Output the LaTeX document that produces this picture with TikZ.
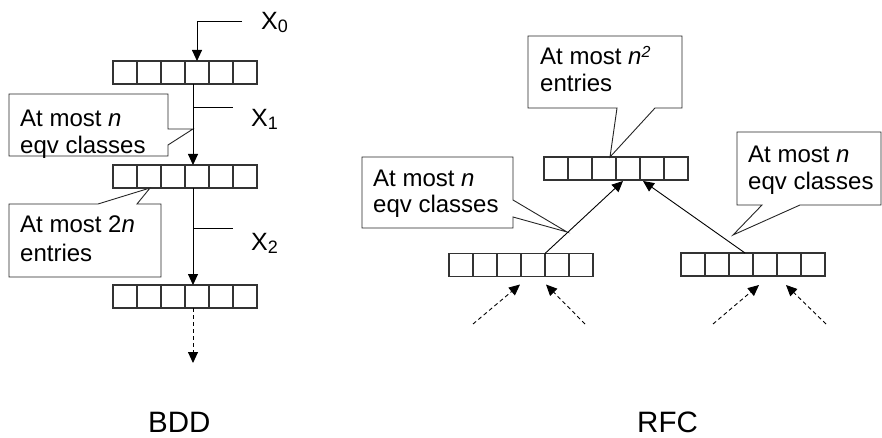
\documentclass[tikz,border=0pt]{standalone}
\usepackage{fontspec}
\setmainfont{Liberation Sans}
\usetikzlibrary{arrows.meta,calc}
\begin{document}
\begin{tikzpicture}[x=1pt,y=-1pt,
  arraybox/.style={draw=black!80,line width=1.2pt,minimum width=144pt,minimum height=23pt,inner sep=0pt,outer sep=0pt},
  cellline/.style={draw=black!80,line width=1.2pt},
  conn/.style={draw=black,line width=0.9pt},
  tip/.style={conn,-{Triangle[width=10pt,length=11pt]}},
  dtip/.style={tip,dash pattern=on 4pt off 3pt},
  callout/.style={draw=black!85,line width=0.9pt,fill=white,line join=miter},
  lab/.style={anchor=base west,inner sep=0pt,font=\fontsize{24}{24}\selectfont},
  xlab/.style={anchor=base west,inner sep=0pt,font=\fontsize{25}{25}\selectfont},
  title/.style={anchor=base west,inner sep=0pt,font=\fontsize{29.5}{29.5}\selectfont}
]
\useasboundingbox (0,0) rectangle (882,438);

% arrays
\node[arraybox] (b1) at (185,72.5) {};
\node[arraybox] (b2) at (185,176.5) {};
\node[arraybox] (b3) at (185,296.5) {};
\node[arraybox] (t) at (616,168.5) {};
\node[arraybox] (l) at (521,265) {};
\node[arraybox] (r) at (753,264.5) {};
\foreach \a in {b1,b2,b3,t,l,r}{
  \foreach \k in {1,...,5}{
    \draw[cellline] ($(\a.north west)!\k/6!(\a.north east)$) -- ($(\a.south west)!\k/6!(\a.south east)$);
  }
}

% callouts
\draw[callout] (9,94) -- (168,94) -- (168,129) -- (193,129) -- (168,145) -- (168,156) -- (9,156) -- cycle;
\node[lab] (c1a) at (20,127) {At most \textit{n}};
\node[lab] (c1b) at (20,154) {eqv classes};

\draw[callout] (9,204) -- (98,204) -- (150,188) -- (137,204) -- (161,204) -- (161,277) -- (9,277) -- cycle;
\node[lab] (c2a) at (20,233) {At most 2\textit{n}};
\node[lab] (c2b) at (20,261) {entries};

\draw[callout] (528,36) -- (682,36) -- (682,108) -- (655,108) -- (610,157) -- (617,108) -- (528,108) -- cycle;
\node[lab] (c3a) at (540,65) {At most \textit{n}\raisebox{7pt}{\fontsize{16}{16}\selectfont\itshape 2}};
\node[lab] (c3b) at (540,92) {entries};

\draw[callout] (362,157) -- (513,157) -- (513,200) -- (567,232) -- (513,217) -- (513,228) -- (362,228) -- cycle;
\node[lab] (c4a) at (373,187) {At most \textit{n}};
\node[lab] (c4b) at (373,213) {eqv classes};

\draw[callout] (737,132) -- (881,132) -- (881,205) -- (800,205) -- (733,235) -- (762,205) -- (737,205) -- cycle;
\node[lab] (c5a) at (748,163) {At most \textit{n}};
\node[lab] (c5b) at (748,190) {eqv classes};

% BDD connectors
\coordinate (x0s) at (242,21);
\coordinate (bx) at ($(b1.south)+(8,0)$);
\draw[tip] (x0s) -| ($(b1.north)+(12,0)$);
\draw[tip] ($(b1.south)+(8,0)$) -- ($(b2.north)+(8,0)$);
\draw[tip] ($(b2.south)+(8,0)$) -- ($(b3.north)+(8,0)$);
\coordinate (bend) at (193,363);
\draw[dtip] ($(b3.south)+(8,0)$) -- (bend);
\coordinate (x1e) at (233,107);
\coordinate (x2e) at (233,228);
\draw[conn] (bx |- x1e) -- (x1e);
\draw[conn] (bx |- x2e) -- (x2e);
\node[xlab] (x0) at (261,30) {X\raisebox{-3pt}{\fontsize{18}{18}\selectfont 0}};
\node[xlab] (x1) at (251,127) {X\raisebox{-3pt}{\fontsize{18}{18}\selectfont 1}};
\node[xlab] (x2) at (251,250) {X\raisebox{-3pt}{\fontsize{18}{18}\selectfont 2}};

% RFC connectors
\draw[tip] ($(l.north)+(24,0)$) -- ($(t.south)+(7,1)$);
\draw[tip] ($(r.north)+(-8,0)$) -- ($(t.south)+(27,1)$);
\coordinate (d1) at (473,324);
\coordinate (d2) at (585,324);
\coordinate (d3) at (713,324);
\coordinate (d4) at (826,324);
\draw[dtip] (d1) -- ($(l.south)+(-1,8)$);
\draw[dtip] (d2) -- ($(l.south)+(25,8)$);
\draw[dtip] (d3) -- ($(r.south)+(6,9)$);
\draw[dtip] (d4) -- ($(r.south)+(33,9)$);

% titles
\node[title] (bdd) at (148,432) {BDD};
\node[title] (rfc) at (637,432) {RFC};
\end{tikzpicture}
\end{document}
